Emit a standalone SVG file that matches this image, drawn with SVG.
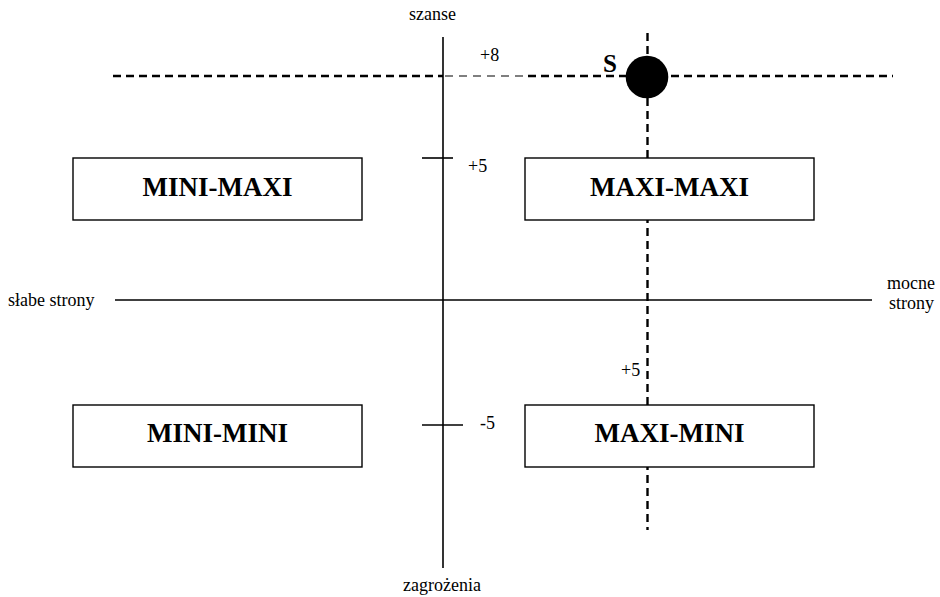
<svg xmlns="http://www.w3.org/2000/svg" width="940" height="597" viewBox="0 0 940 597">
  <style>
    .lbl { font-family: "Liberation Serif", "Times New Roman", serif; font-size: 18px; fill: #000; }
    .box rect { fill: #fff; stroke: #000; stroke-width: 1.4; }
    .box text { font-family: "Liberation Serif", "Times New Roman", serif; font-size: 27px; font-weight: bold; text-anchor: middle; fill: #000; }
    .solid { stroke: #000; stroke-width: 1.6; fill: none; }
    .dash { stroke: #000; stroke-width: 2.4; fill: none; stroke-dasharray: 8 5; }
    .dash-thin { stroke: #000; stroke-width: 1.2; fill: none; stroke-dasharray: 8 6; }
  </style>
  <rect width="940" height="597" fill="#fff"/>

  <g id="connectors">
    <!-- opportunities / threats axis -->
    <line class="solid" x1="443" y1="37" x2="443" y2="568"/>
    <!-- weaknesses / strengths axis -->
    <line class="solid" x1="115" y1="300" x2="872" y2="300" stroke-width="2"/>
    <!-- scale ticks -->
    <line class="solid" x1="422" y1="158" x2="453" y2="158"/>
    <line class="solid" x1="422" y1="425" x2="463" y2="425"/>
    <!-- dashed position lines through S -->
    <line class="dash" x1="113" y1="76" x2="443" y2="76"/>
    <line class="dash-thin" x1="445" y1="76" x2="527" y2="76"/>
    <line class="dash" x1="528" y1="76" x2="893" y2="76"/>
    <line class="dash" x1="647.5" y1="33" x2="647.5" y2="530"/>
  </g>

  <g id="node-mini-maxi" class="box">
    <rect x="73" y="158" width="289" height="62"/>
    <text x="217.5" y="196">MINI-MAXI</text>
  </g>
  <g id="node-maxi-maxi" class="box">
    <rect x="525" y="158" width="289" height="62"/>
    <text x="669.5" y="196">MAXI-MAXI</text>
  </g>
  <g id="node-mini-mini" class="box">
    <rect x="73" y="405" width="289" height="62"/>
    <text x="217.5" y="442">MINI-MINI</text>
  </g>
  <g id="node-maxi-mini" class="box">
    <rect x="525" y="405" width="289" height="62"/>
    <text x="669.5" y="442">MAXI-MINI</text>
  </g>

  <g id="node-s">
    <circle cx="647" cy="77" r="21.3" fill="#000"/>
    <text x="603" y="72" font-family="'Liberation Serif', serif" font-size="25" font-weight="bold">S</text>
  </g>

  <g id="labels">
    <text class="lbl" x="409" y="20">szanse</text>
    <text class="lbl" x="403" y="591">zagrożenia</text>
    <text class="lbl" x="8" y="306">słabe strony</text>
    <text class="lbl" x="887" y="289">mocne</text>
    <text class="lbl" x="889" y="309">strony</text>
    <text class="lbl" x="480" y="61">+8</text>
    <text class="lbl" x="468" y="172">+5</text>
    <text class="lbl" x="480" y="429">-5</text>
    <text class="lbl" x="621" y="376">+5</text>
  </g>
</svg>
